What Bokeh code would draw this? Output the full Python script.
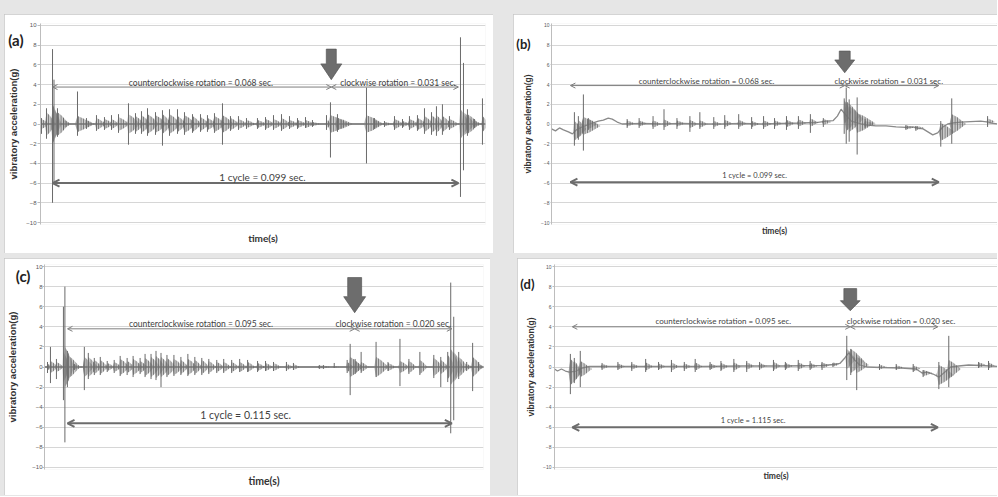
from bokeh.plotting import figure
from bokeh.models import Range1d, Arrow, OpenHead, Label, FixedTicker, Spacer, LinearAxis
from bokeh.layouts import row, column
from bokeh.embed import file_html
from bokeh.resources import INLINE

# ---------------- data (time in ms, acceleration in g) ----------------
Y_TICKS = [-10, -8, -6, -4, -2, 0, 2, 4, 6, 8, 10]
Y_LABEL = "vibratory acceleration(g)"
X_LABEL = "time(s)"

# panel (a)
A_T = [0.24, 1.46, 2.93, 3.29, 4.14, 5.61, 9.02, 11.21, 13.65, 15.60,
       17.31, 19.02, 21.45, 23.16, 24.62, 26.09, 28.04, 29.74, 31.45, 33.40,
       35.11, 37.06, 39.01, 40.71, 42.42, 44.37, 46.32, 48.27, 50.22, 52.90,
       54.86, 56.81, 58.76, 60.71, 62.66, 64.61, 66.31, 69.73, 70.70, 72.41,
       79.48, 81.43, 83.87, 86.31, 88.26, 89.96, 91.91, 93.62, 95.33, 96.54,
       98.00, 99.71, 102.40, 103.13, 104.10, 105.83, 107.76]
A_AMP = [0.5, 1.2, 2.0, 1.5, 1.2, 0.4, 0.8, 0.4, 0.6, 0.5,
         0.5, 0.7, 1.0, 0.8, 0.9, 1.0, 0.9, 1.0, 1.0, 0.8,
         0.9, 0.8, 0.7, 0.6, 0.8, 0.9, 0.6, 0.5, 0.4, 0.4,
         0.5, 0.5, 0.6, 0.4, 0.4, 0.4, 0.2, 0.4, 0.9, 0.6,
         0.9, 0.4, 0.2, 0.5, 0.3, 0.5, 0.6, 0.8, 0.9, 0.9,
         0.8, 0.5, 1.5, 1.2, 1.0, 0.3, 0.8]
A_HI = [0.6, 1.6, 7.6, 4.5, 1.6, 0.6, 3.3, 0.6, 0.9, 0.7,
        0.9, 1.0, 2.1, 1.1, 1.3, 1.6, 1.2, 1.4, 1.5, 1.5,
        1.2, 1.0, 1.0, 0.9, 1.1, 2.1, 0.8, 0.8, 0.6, 0.6,
        0.7, 0.9, 1.0, 0.8, 0.6, 0.7, 0.4, 0.9, 2.2, 1.0,
        3.7, 0.6, 0.3, 0.8, 0.5, 0.8, 0.9, 1.6, 1.2, 1.8,
        2.0, 0.8, 8.8, 6.2, 1.5, 0.5, 2.6]
A_LO = [-1.0, -1.5, -8.0, -6.0, -1.3, -0.6, -1.2, -0.5, -0.7, -0.6,
        -0.6, -0.9, -2.1, -1.0, -1.0, -1.2, -1.1, -2.2, -1.2, -1.0,
        -1.1, -0.9, -0.8, -0.8, -0.9, -2.1, -0.7, -0.6, -0.5, -0.5,
        -0.6, -0.6, -0.7, -0.5, -0.5, -0.4, -0.3, -0.6, -3.4, -0.8,
        -4.0, -0.5, -0.3, -0.6, -0.4, -0.6, -0.7, -1.0, -1.1, -1.2,
        -1.1, -0.6, -7.4, -4.7, -1.2, -0.4, -2.1]
A_DUR = [1.0, 1.2, 1.0, 1.0, 1.5, 1.0, 2.0, 1.0, 1.2, 1.2,
         1.0, 1.5, 1.5, 1.2, 1.2, 1.5, 1.5, 1.2, 1.5, 1.2,
         1.5, 1.2, 1.2, 1.2, 1.5, 1.5, 1.2, 1.2, 1.2, 1.2,
         1.2, 1.2, 1.2, 1.2, 1.2, 1.2, 1.0, 0.7, 2.4, 2.0,
         2.2, 1.0, 1.0, 1.2, 1.0, 1.2, 1.2, 1.2, 1.2, 1.0,
         1.2, 1.2, 1.2, 1.5, 1.5, 1.0, 0.8]
A_BASE_T = [0.0, 108.5]
A_BASE_V = [0.0, 0.0]
A_EVENTS = [2.93, 70.9, 101.9]          # cycle start, direction change, cycle end
A_TEXTS = ["counterclockwise rotation = 0.068 sec.",
           "clockwise rotation = 0.031 sec.",
           "1 cycle = 0.099 sec."]

# panel (b)
B_T = [6.12, 7.18, 8.52, 9.85, 20.22, 23.42, 27.14, 30.07, 33.53, 36.99,
       39.65, 43.37, 46.30, 50.03, 53.49, 56.68, 59.61, 62.80, 65.99, 69.19,
       72.65, 78.23, 78.77, 79.56, 81.69, 83.82, 94.73, 97.39, 104.04, 106.97,
       116.55]
B_MID = [-0.7, -0.5, -0.2, 0.0, 0.05, 0.05, 0.0, 0.05, 0.05, 0.0,
         0.0, 0.0, 0.05, 0.05, 0.0, 0.0, 0.05, 0.05, 0.1, 0.15,
         0.2, 1.2, 0.8, 0.5, 0.1, 0.0, -0.35, -0.4, -0.8, 0.0,
         0.25]
B_AMP = [1.0, 0.9, 0.9, 0.5, 0.3, 0.3, 0.35, 0.4, 0.3, 0.4,
         0.35, 0.3, 0.35, 0.35, 0.3, 0.35, 0.3, 0.35, 0.35, 0.4,
         0.3, 1.2, 1.5, 1.3, 1.0, 0.3, 0.2, 0.2, 0.9, 1.0,
         0.3]
B_HI = [1.2, 0.8, 3.0, 0.6, 0.5, 0.6, 0.8, 1.5, 0.6, 0.8,
        1.2, 0.7, 0.9, 1.0, 0.7, 0.8, 0.6, 0.8, 0.8, 1.0,
        0.6, 2.6, 3.7, 2.5, 2.7, 0.5, -0.1, -0.2, 0.3, 2.6,
        0.8]
B_LO = [-2.2, -1.6, -2.7, -0.6, -0.4, -0.4, -0.5, -0.6, -0.5, -0.8,
        -0.5, -0.5, -0.5, -0.5, -0.5, -0.5, -0.5, -0.6, -0.5, -0.9,
        -0.3, -1.0, -2.0, -1.8, -3.1, -0.4, -0.6, -0.7, -2.3, -2.0,
        -0.3]
B_DUR = [1.3, 1.1, 2.4, 1.3, 1.1, 1.1, 1.1, 1.1, 1.1, 1.1,
         1.1, 1.1, 1.1, 1.1, 1.1, 1.1, 1.1, 1.1, 1.1, 1.1,
         1.1, 1.0, 2.0, 2.0, 2.5, 1.5, 1.2, 1.2, 2.0, 2.0,
         1.0]
B_BASE_T = [0.0, 1.06, 2.13, 3.19, 4.52, 5.59, 6.65, 8.25, 9.58, 10.91,
            12.51, 13.84, 15.17, 16.23, 17.56, 18.89, 24.2, 29.5, 34.9, 40.2,
            45.5, 50.8, 56.1, 61.5, 66.8, 70.8, 73.4, 75.3, 76.4, 77.4,
            78.0, 80.1, 82.8, 84.4, 86.7, 89.4, 92.1, 94.7, 96.6, 98.2,
            99.3, 100.6, 101.9, 103.2, 104.6, 105.9, 107.2, 109.4, 112.0, 114.7,
            116.8, 117.4, 119.5]
B_BASE_V = [-0.5, -0.7, -0.4, -0.6, -0.8, -1.0, -0.6, -0.3, -0.1, 0.1,
            0.3, 0.4, 0.6, 0.5, 0.2, 0.0, 0.05, 0.0, 0.05, 0.0,
            0.0, 0.05, 0.0, 0.05, 0.1, 0.15, 0.3, 0.35, 0.8, 1.5,
            1.2, 0.3, 0.0, -0.1, -0.2, -0.2, -0.3, -0.35, -0.3, -0.45,
            -0.5, -0.8, -1.1, -0.9, -0.3, 0.0, 0.1, 0.2, 0.25, 0.3,
            0.2, 0.1, 0.0]
B_EVENTS = [5.06, 78.37, 103.5]
B_TEXTS = ["counterclockwise  rotation = 0.068 sec.",
           "clockwise rotation = 0.031 sec.",
           "1 cycle = 0.099 sec."]

# panel (c)
C_T = [0.90, 1.79, 3.58, 5.68, 6.12, 6.87, 8.96, 11.95, 13.14, 14.94,
       16.73, 18.82, 20.91, 22.70, 24.79, 26.58, 28.68, 30.17, 31.96, 33.45,
       34.95, 36.74, 38.83, 40.92, 43.01, 45.10, 47.19, 49.29, 51.68, 53.77,
       56.16, 58.55, 60.93, 63.92, 66.31, 68.70, 72.58, 74.68, 82.44, 83.64,
       86.92, 90.80, 91.70, 93.19, 94.99, 99.47, 103.05, 106.64, 109.32, 112.61,
       116.79, 118.88, 120.97, 121.87, 122.77, 124.26, 126.65, 128.44, 130.24]
C_AMP = [0.3, 0.6, 0.5, 1.5, 2.0, 1.2, 0.2, 1.0, 1.0, 0.7,
         0.7, 0.4, 0.5, 0.8, 0.6, 0.8, 0.6, 0.9, 1.0, 1.1,
         1.0, 0.9, 0.8, 0.7, 0.8, 0.7, 0.7, 0.6, 0.5, 0.5,
         0.5, 0.5, 0.5, 0.4, 0.4, 0.4, 0.3, 0.3, 0.15, 0.15,
         0.1, 0.5, 1.0, 0.6, 0.5, 1.0, 0.4, 0.6, 0.6, 0.7,
         0.9, 0.7, 1.2, 1.8, 1.5, 1.0, 0.3, 1.0, 0.3]
C_HI = [0.5, 2.0, 0.8, 6.0, 8.0, 1.6, 0.3, 2.0, 1.4, 0.9,
        1.0, 0.6, 0.7, 1.1, 0.9, 1.1, 0.9, 1.3, 1.3, 1.6,
        1.4, 1.2, 1.2, 1.0, 1.3, 1.0, 0.9, 0.8, 0.7, 0.8,
        0.7, 0.8, 0.7, 0.6, 0.6, 0.5, 0.5, 0.4, 0.2, 0.2,
        0.4, 0.7, 2.3, 0.8, 1.5, 2.5, 0.5, 2.8, 0.8, 1.5,
        1.2, 1.0, 1.5, 8.4, 5.0, 1.5, 0.5, 2.4, 0.5]
C_LO = [-0.6, -1.6, -1.2, -3.3, -7.5, -2.0, -0.3, -2.3, -1.2, -0.8,
        -0.8, -0.5, -0.6, -0.9, -0.8, -1.0, -0.7, -1.0, -1.2, -1.3,
        -2.0, -1.0, -0.9, -0.8, -0.9, -0.8, -0.8, -0.7, -0.6, -0.6,
        -0.6, -0.5, -0.5, -0.5, -0.4, -0.4, -0.4, -0.3, -0.2, -0.2,
        -0.1, -0.6, -2.8, -0.7, -0.6, -1.0, -0.4, -1.9, -0.7, -0.8,
        -1.1, -2.0, -1.5, -6.6, -5.3, -1.2, -0.4, -2.4, -0.4]
C_DUR = [1.0, 1.2, 1.2, 1.0, 1.5, 2.0, 1.5, 1.5, 1.5, 1.2,
         1.2, 1.2, 1.2, 1.5, 1.2, 1.5, 1.2, 1.5, 1.5, 1.5,
         1.5, 1.5, 1.5, 1.2, 1.5, 1.2, 1.2, 1.2, 1.2, 1.2,
         1.2, 1.2, 1.2, 1.2, 1.2, 1.2, 1.2, 1.0, 1.5, 1.0,
         0.8, 1.0, 2.0, 1.2, 1.2, 2.0, 1.2, 1.5, 1.2, 1.2,
         1.5, 1.2, 1.2, 1.5, 1.5, 1.5, 1.0, 1.5, 1.0]
C_BASE_T = [0.0, 131.7]
C_BASE_V = [0.0, 0.0]
C_EVENTS = [6.9, 93.05, 122.2]
C_TEXTS = ["counterclockwise rotation = 0.095 sec.",
           "clockwise rotation = 0.020 sec.",
           "1 cycle = 0.115 sec."]

# panel (d)
D_T = [4.95, 6.18, 8.04, 14.84, 19.78, 24.11, 28.44, 32.46, 36.48, 40.49,
       43.89, 48.53, 51.93, 55.95, 59.97, 63.98, 68.31, 72.02, 76.04, 79.75,
       83.46, 86.86, 91.18, 92.42, 94.28, 101.4, 106.6, 111.9, 115.0, 119.9,
       123.0, 132.3, 135.4]
D_MID = [-0.5, -0.4, -0.2, 0.05, 0.05, 0.05, 0.05, 0.05, 0.05, 0.05,
         0.05, 0.05, 0.05, 0.05, 0.1, 0.1, 0.1, 0.1, 0.1, 0.1,
         0.15, 0.25, 0.8, 0.6, 0.2, 0.0, -0.05, -0.15, -0.6, -0.8,
         -0.2, 0.2, 0.15]
D_AMP = [1.3, 1.0, 0.8, 0.25, 0.3, 0.3, 0.4, 0.3, 0.4, 0.3,
         0.4, 0.3, 0.35, 0.4, 0.35, 0.3, 0.4, 0.3, 0.35, 0.3,
         0.3, 0.2, 1.0, 1.2, 0.8, 0.2, 0.2, 0.3, 0.3, 1.0,
         0.9, 0.25, 0.3]
D_HI = [1.3, 0.9, 1.6, 0.4, 0.5, 0.5, 0.8, 0.5, 0.7, 0.5,
        0.8, 0.5, 0.6, 0.8, 0.6, 0.5, 0.7, 0.5, 0.7, 0.6,
        0.5, 0.4, 3.1, 1.8, 1.2, 0.3, 0.3, 0.3, -0.3, 0.5,
        3.1, 0.5, 0.6]
D_LO = [-2.7, -1.6, -2.0, -0.3, -0.3, -0.4, -0.5, -0.3, -0.5, -0.4,
        -0.5, -0.3, -0.4, -0.5, -0.5, -0.3, -0.4, -0.3, -0.4, -0.3,
        -0.3, 0.0, -1.3, -0.8, -2.3, -0.3, -0.3, -0.5, -1.0, -2.2,
        -2.0, -0.1, -0.3]
D_DUR = [1.9, 1.2, 1.9, 1.2, 1.2, 1.2, 1.2, 1.2, 1.2, 1.2,
         1.2, 1.2, 1.2, 1.2, 1.2, 1.2, 1.2, 1.2, 1.2, 1.2,
         1.2, 1.0, 1.5, 2.2, 2.0, 1.2, 1.2, 1.2, 1.5, 2.5,
         2.0, 1.2, 1.0]
D_BASE_T = [0.0, 0.93, 2.16, 3.4, 4.64, 6.8, 8.65, 10.82, 21.64, 34.0,
            46.37, 58.73, 71.09, 83.46, 87.17, 89.02, 90.57, 91.8, 93.35, 95.2,
            97.37, 102.0, 108.2, 112.8, 114.7, 116.2, 118.1, 120.0, 121.8, 123.6,
            126.1, 129.2, 132.9, 136.0, 138.2]
D_BASE_V = [-0.2, -0.4, -0.2, -0.4, -0.5, -0.4, -0.1, 0.05, 0.05, 0.05,
            0.05, 0.1, 0.1, 0.15, 0.25, 0.35, 0.9, 1.4, 0.8, 0.2,
            0.0, -0.05, -0.1, -0.2, -0.6, -0.5, -0.7, -1.0, -0.5, 0.0,
            0.1, 0.2, 0.15, 0.1, 0.05]
D_EVENTS = [5.56, 92.27, 119.6]
D_TEXTS = ["counterclockwise rotation = 0.095 sec.",
           "clockwise rotation = 0.020 sec.",
           "1 cycle = 1.115 sec."]

# ---------------- styling ----------------
FONT = "Lato"
TXT = "#3f3f3f"
SIG = "#8a8a8a"
HATCH = "#6e6e6e"
SPIKE = "#6a6a6a"

STYLES = {
    "a": dict(w=489, h=239, bl=36, br=8, bt=9, bb=29, xmax=108.5,
              blk=(1.22, 2.56, 7.6, 6.1, 4.5), ay=3.75, ty=4.2, cy=-6.0, cty=-5.35,
              tfs="8.5px", cfs="10px", off=(9, 3, 7), lfs="15px", lstand=-18, ly=8.48,
              yfs="9.5px", tick="6px", tout=3, tstand=1, ystand=4, xfs="10px", xstand=7,
              blw=2.0),
    "b": dict(w=484, h=239, bl=36, br=0, bt=5, bb=20, xmax=119.2,
              blk=(1.46, 2.66, 7.4, 6.5, 5.2), ay=3.9, ty=4.35, cy=-5.9, cty=-5.2,
              tfs="8px", cfs="7.5px", off=(0, -3, 0), lfs="13px", lstand=-10, ly=8.1,
              yfs="8.5px", tick="5px", tout=1, tstand=1, ystand=5, xfs="8.5px", xstand=1,
              blw=1.3),
    "c": dict(w=486, h=237, bl=38, br=7, bt=6, bb=26, xmax=131.7,
              blk=(2.09, 3.29, 8.9, 7.0, 5.4), ay=3.8, ty=4.3, cy=-5.6, cty=-4.8,
              tfs="8.5px", cfs="10.5px", off=(-10, -10, -14), lfs="15px", lstand=-26, ly=9.05,
              yfs="9.5px", tick="6px", tout=2, tstand=0, ystand=11, xfs="10.5px", xstand=5,
              blw=2.0),
    "d": dict(w=480, h=237, bl=33, br=0, bt=5, bb=19, xmax=138.2,
              blk=(2.0, 3.09, 7.8, 6.6, 5.6), ay=4.0, ty=4.55, cy=-6.0, cty=-5.35,
              tfs="8px", cfs="7.5px", off=(12, 7, -2), lfs="13px", lstand=-11, ly=8.3,
              yfs="8.5px", tick="5px", tout=2, tstand=1, ystand=4, xfs="8.5px", xstand=1,
              blw=1.3),
}


def make_panel(letter, bt, bmid, bamp, bhi, blo, bdur, base_t, base_v, events, texts):
    st = STYLES[letter]
    p = figure(width=st["w"], height=st["h"],
               x_range=Range1d(0, st["xmax"]), y_range=Range1d(-10.2, 10.2),
               output_backend="svg", toolbar_location=None,
               min_border_left=st["bl"], min_border_right=st["br"],
               min_border_top=st["bt"], min_border_bottom=st["bb"],
               background_fill_color="white", border_fill_color="white",
               outline_line_color=None)
    p.styles = {"outline": "1px solid #c6c6c6", "outline-offset": "-1px"}

    # grid & axes
    p.xgrid.visible = False
    p.ygrid.ticker = FixedTicker(ticks=Y_TICKS)
    p.ygrid.grid_line_color = "#d6d6d6"
    p.ygrid.grid_line_width = 1

    ya = p.yaxis[0]
    ya.ticker = FixedTicker(ticks=Y_TICKS)
    ya.axis_label = Y_LABEL
    ya.axis_label_text_font = "Liberation Sans"
    ya.axis_label_text_font_style = "bold"
    ya.axis_label_text_font_size = st["yfs"]
    ya.axis_label_text_color = "#333333"
    ya.axis_label_standoff = st["ystand"]
    ya.major_label_text_font = "Liberation Sans"
    ya.major_label_text_font_size = st["tick"]
    ya.major_label_text_color = "#595959"
    ya.major_label_standoff = st["tstand"]
    ya.axis_line_color = "#bdbdbd"
    ya.major_tick_line_color = "#bdbdbd"
    ya.major_tick_out = st["tout"]
    ya.major_tick_in = 0
    ya.minor_tick_line_color = None

    # panel letter as an extra (outer) left axis with one labelled tick
    la = LinearAxis(ticker=FixedTicker(ticks=[st["ly"]]),
                    major_label_overrides={st["ly"]: "(" + letter + ")"},
                    axis_line_color=None, major_tick_line_color=None,
                    minor_tick_line_color=None, major_tick_out=0, major_tick_in=0,
                    major_label_standoff=st["lstand"],
                    major_label_text_font=FONT, major_label_text_font_style="bold",
                    major_label_text_font_size=st["lfs"], major_label_text_color="#222222")
    p.add_layout(la, "left")

    xa = p.xaxis[0]
    xa.ticker = FixedTicker(ticks=[])
    xa.axis_label = X_LABEL
    xa.axis_label_text_font = FONT
    xa.axis_label_text_font_style = "bold"
    xa.axis_label_text_font_size = st["xfs"]
    xa.axis_label_text_color = "#333333"
    xa.axis_label_standoff = st["xstand"]
    xa.major_label_standoff = 0
    xa.major_tick_out = 0
    xa.major_tick_in = 0
    xa.axis_line_color = None
    xa.major_tick_line_color = None
    xa.minor_tick_line_color = None
    xa.major_label_text_font_size = "0px"

    # signal: baseline + bursts (decaying oscillation envelope) + peak spikes
    p.line(base_t, base_v, line_color=SIG, line_width=st["blw"])
    xs, ys = [], []
    for t, m, a, d in zip(bt, bmid, bamp, bdur):
        xs.append([t - 0.3 * d, t, t + 0.7 * d, t + 1.9 * d, t + 0.7 * d, t])
        ys.append([m, m + a, m + 0.7 * a, m, m - 0.7 * a, m - a])
    p.patches(xs, ys, fill_color=SIG, fill_alpha=0.45, line_color=None,
              hatch_pattern="vertical_line", hatch_color=HATCH, hatch_scale=2.5,
              hatch_weight=1)
    p.segment(x0=bt, y0=blo, x1=bt, y1=bhi, line_color=SPIKE, line_width=1)

    t0, ts, t1 = events
    # thick block arrow at the change of direction
    sh, hh, ytop, yhead, ytip = st["blk"]
    p.patch([ts - sh, ts + sh, ts + sh, ts + hh, ts, ts - hh, ts - sh],
            [ytop, ytop, yhead, yhead, ytip, yhead, yhead],
            fill_color="#6d6d6d", line_color="#585858", line_width=0.7)

    # rotation arrows
    thin = "#7f7f7f"
    for xa0, xa1 in ((t0, ts), (ts, t1)):
        p.add_layout(Arrow(start=OpenHead(size=5, line_color=thin, line_width=1),
                           end=OpenHead(size=5, line_color=thin, line_width=1),
                           x_start=xa0, x_end=xa1, y_start=st["ay"], y_end=st["ay"],
                           line_color=thin, line_width=1))
    thick = "#6c6c6c"
    p.add_layout(Arrow(start=OpenHead(size=7, line_color=thick, line_width=2),
                       end=OpenHead(size=7, line_color=thick, line_width=2),
                       x_start=t0, x_end=t1, y_start=st["cy"], y_end=st["cy"],
                       line_color=thick, line_width=2))

    # annotation texts
    ox = st["off"]
    p.add_layout(Label(x=(t0 + ts) / 2, y=st["ty"], text=texts[0], x_offset=ox[0],
                       text_align="center", text_baseline="alphabetic",
                       text_font=FONT, text_font_size=st["tfs"], text_color=TXT))
    p.add_layout(Label(x=(ts + t1) / 2, y=st["ty"], text=texts[1], x_offset=ox[1],
                       text_align="center", text_baseline="alphabetic",
                       text_font=FONT, text_font_size=st["tfs"], text_color=TXT))
    p.add_layout(Label(x=(t0 + t1) / 2, y=st["cty"], text=texts[2], x_offset=ox[2],
                       text_align="center", text_baseline="alphabetic",
                       text_font=FONT, text_font_size=st["cfs"], text_color=TXT))
    return p


pa = make_panel("a", A_T, [0.0] * len(A_T), A_AMP, A_HI, A_LO, A_DUR,
                A_BASE_T, A_BASE_V, A_EVENTS, A_TEXTS)
pb = make_panel("b", B_T, B_MID, B_AMP, B_HI, B_LO, B_DUR,
                B_BASE_T, B_BASE_V, B_EVENTS, B_TEXTS)
pc = make_panel("c", C_T, [0.0] * len(C_T), C_AMP, C_HI, C_LO, C_DUR,
                C_BASE_T, C_BASE_V, C_EVENTS, C_TEXTS)
pd = make_panel("d", D_T, D_MID, D_AMP, D_HI, D_LO, D_DUR,
                D_BASE_T, D_BASE_V, D_EVENTS, D_TEXTS)

layout = column(
    Spacer(width=997, height=14),
    row(Spacer(width=4, height=239), pa, Spacer(width=20, height=239), pb),
    Spacer(width=997, height=5),
    row(Spacer(width=4, height=237), pc, Spacer(width=27, height=237), pd),
    Spacer(width=997, height=1),
    styles={"background-color": "#e6e6e6"},
)

open("out.html", "w").write(file_html(layout, INLINE))
